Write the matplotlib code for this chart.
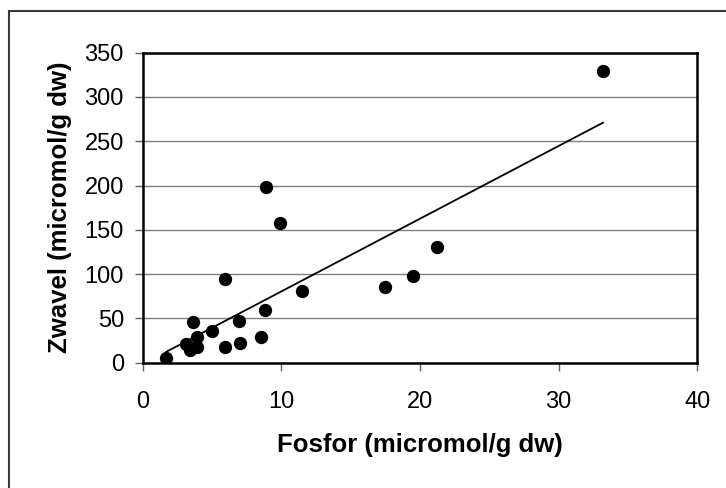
import numpy as np
import matplotlib
matplotlib.use("Agg")
import matplotlib.pyplot as plt
from matplotlib.patches import Rectangle

plt.rcParams["font.family"] = ["Liberation Sans", "DejaVu Sans"]

# Fosfor vs Zwavel (micromol/g dw)
fosfor = [1.7, 3.15, 3.4, 3.6, 3.9, 3.9, 5.0, 5.9, 5.9, 6.95, 7.05,
          8.5, 8.8, 8.9, 9.9, 11.5, 17.45, 19.5, 21.2, 33.2]
zwavel = [5.0, 21.0, 14.0, 45.5, 18.0, 29.5, 36.0, 18.0, 95.0, 47.5, 22.5,
          29.5, 59.0, 198.5, 158.0, 81.5, 86.0, 97.5, 131.0, 329.5]

xticks = [0, 10, 20, 30, 40]
yticks = [0, 50, 100, 150, 200, 250, 300, 350]

W, H = 726, 488
fig = plt.figure(figsize=(W / 100, H / 100), dpi=100)
ax = fig.add_axes([142.7 / W, 1 - 362.7 / H, (697.3 - 142.7) / W, (362.7 - 52.7) / H])

# outer chart frame (only left and top visible)
fig.patches.append(Rectangle((8.5 / W, -0.1), 1.2, 1 - 10.7 / H + 0.1,
                             transform=fig.transFigure, fill=False,
                             edgecolor="#3a3a3a", linewidth=1.5))

ax.scatter(fosfor, zwavel, s=92, color="black", zorder=3, linewidths=0)

# linear trend line
k, b = np.polyfit(fosfor, zwavel, 1)
xs = np.array([min(fosfor), max(fosfor)])
ax.plot(xs, k * xs + b, color="black", linewidth=1.3, zorder=2)

ax.set_xlim(0, 40)
ax.set_ylim(0, 350)
ax.set_xticks(xticks)
ax.set_yticks(yticks)
ax.yaxis.grid(True, color="#808080", linewidth=1.0)
ax.set_axisbelow(True)

for s in ax.spines.values():
    s.set_linewidth(1.8)
    s.set_color("black")

ax.tick_params(direction="out", length=5.5, width=1, colors="#606060",
               labelcolor="black", labelsize=17)
ax.tick_params(axis="x", pad=15)
ax.tick_params(axis="y", pad=8)

ax.set_xlabel("Fosfor (micromol/g dw)", fontsize=18.5, fontweight="bold", labelpad=14)
ax.set_ylabel("Zwavel (micromol/g dw)", fontsize=18.5, fontweight="bold", labelpad=9)

fig.savefig("out.png", dpi=100)
